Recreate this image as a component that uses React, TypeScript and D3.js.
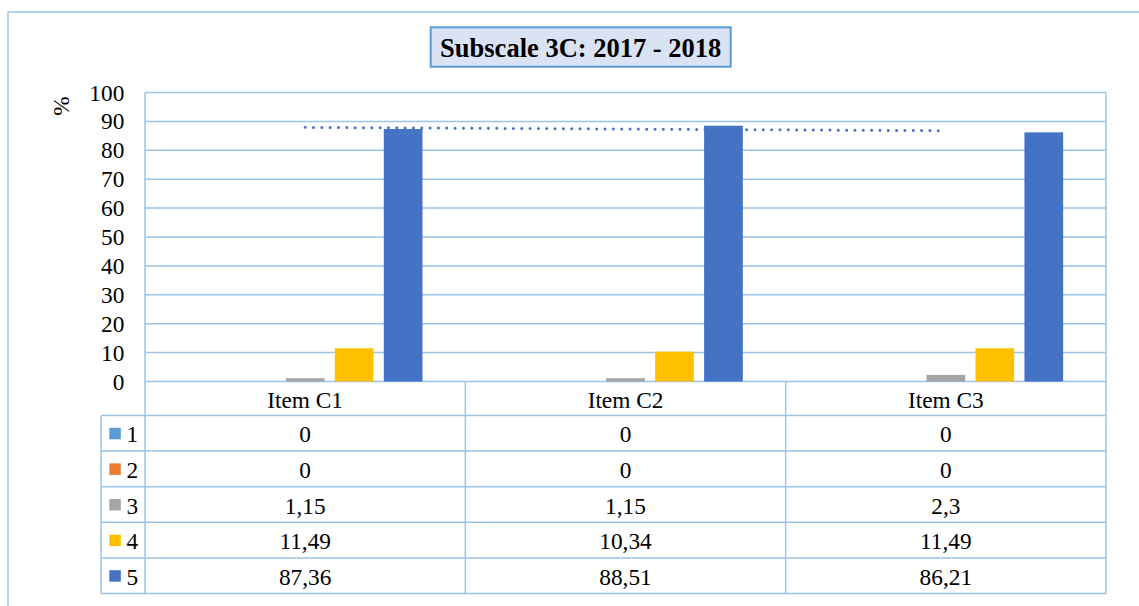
import { scaleBand, scaleLinear, mean, sum } from "d3";

const categories = ["Item C1", "Item C2", "Item C3"];
const seriesNames = ["1", "2", "3", "4", "5"];
const values1 = [0, 0, 0];
const values2 = [0, 0, 0];
const values3 = [1.15, 1.15, 2.3];
const values4 = [11.49, 10.34, 11.49];
const values5 = [87.36, 88.51, 86.21];
const yTicks = [0, 10, 20, 30, 40, 50, 60, 70, 80, 90, 100];
const colors = ["#5b9bd5", "#ed7d31", "#a5a5a5", "#ffc000", "#4472c4"];

const allSeries = [values1, values2, values3, values4, values5];

const width = 1139;
const height = 606;
const PLOT = { left: 145, right: 1106, top: 92.5, bottom: 381.5 };
const TABLE = { left: 101, headerBottom: 415.5, rowH: 35.6 };
const gridColor = "#9dc3e6";
const font = "'Liberation Serif', 'Times New Roman', serif";
const fs = 23.3;

const fmt = (v: number) => String(v).replace(".", ",");

export default function App() {
  const xScale = scaleBand<string>().domain(categories).range([PLOT.left, PLOT.right]).padding(0);
  const xInner = scaleBand<string>()
    .domain(seriesNames)
    .range([0, xScale.bandwidth()])
    .paddingInner(0.21)
    .paddingOuter(0.875);
  const yScale = scaleLinear().domain([0, 100]).range([PLOT.bottom, PLOT.top]);

  // linear trendline of series 5
  const xs = categories.map((_, i) => i);
  const mx = mean(xs) as number;
  const my = mean(values5) as number;
  const slope =
    sum(xs, (x, i) => (x - mx) * (values5[i] - my)) / sum(xs, (x) => (x - mx) * (x - mx));
  const trend = (i: number) => my + slope * (i - mx);
  const cx = (i: number) => (xScale(categories[i]) as number) + xScale.bandwidth() / 2;
  const last = categories.length - 1;

  const tableBottom = TABLE.headerBottom + TABLE.rowH * seriesNames.length;

  return (
    <svg
      width={width}
      height={height}
      fontFamily={font}
      style={{ position: "absolute", left: 0, top: 0 }}
    >
      <rect x={0} y={0} width={width} height={height} fill="#fff" />
      <rect x={8} y={12} width={width + 20} height={height + 20} fill="none" stroke={gridColor} strokeWidth={1.5} />

      {/* title */}
      <rect x={430.7} y={27.3} width={300} height={39.4} fill="#dae3f3" stroke="#5b9bd5" strokeWidth={2} />
      <text x={580.7} y={47.5} textAnchor="middle" dominantBaseline="central" fontSize={26.5} fontWeight="bold">
        Subscale 3C: 2017 - 2018
      </text>

      {/* y axis label */}
      <text
        transform="translate(61,106) rotate(-90)"
        textAnchor="middle"
        dominantBaseline="central"
        fontSize={fs}
      >
        %
      </text>

      {/* gridlines + ticks */}
      {yTicks.map((t) => (
        <g key={t}>
          <line x1={PLOT.left} x2={PLOT.right} y1={yScale(t)} y2={yScale(t)} stroke={gridColor} strokeWidth={1.5} />
          <text x={124.3} y={yScale(t)} textAnchor="end" dominantBaseline="central" fontSize={fs}>
            {t}
          </text>
        </g>
      ))}
      <line x1={PLOT.right} x2={PLOT.right} y1={PLOT.top} y2={tableBottom} stroke={gridColor} strokeWidth={1.5} />

      {/* trendline */}
      <line
        x1={cx(0)}
        x2={cx(last)}
        y1={yScale(trend(0))}
        y2={yScale(trend(last))}
        stroke="#4472c4"
        strokeWidth={3}
        strokeLinecap="round"
        strokeDasharray="0 8.33"
      />

      {/* bars */}
      {allSeries.map((vals, s) =>
        vals.map((v, i) => {
          if (v <= 0) return null;
          const x = (xScale(categories[i]) as number) + (xInner(seriesNames[s]) as number);
          return (
            <rect
              key={`${s}-${i}`}
              x={x}
              y={yScale(v)}
              width={xInner.bandwidth()}
              height={yScale(0) - yScale(v)}
              fill={colors[s]}
            />
          );
        })
      )}

      {/* data table */}
      <line x1={PLOT.left} x2={PLOT.left} y1={PLOT.top} y2={tableBottom} stroke={gridColor} strokeWidth={1.5} />
      <line x1={TABLE.left} x2={TABLE.left} y1={TABLE.headerBottom} y2={tableBottom} stroke={gridColor} strokeWidth={1.5} />
      {categories.slice(1).map((c) => (
        <line
          key={c}
          x1={xScale(c)}
          x2={xScale(c)}
          y1={PLOT.bottom}
          y2={tableBottom}
          stroke={gridColor}
          strokeWidth={1.5}
        />
      ))}
      {seriesNames.map((_, r) => (
        <line
          key={r}
          x1={TABLE.left}
          x2={PLOT.right}
          y1={TABLE.headerBottom + TABLE.rowH * r}
          y2={TABLE.headerBottom + TABLE.rowH * r}
          stroke={gridColor}
          strokeWidth={1.5}
        />
      ))}
      <line x1={TABLE.left} x2={PLOT.right} y1={tableBottom} y2={tableBottom} stroke={gridColor} strokeWidth={1.5} />

      {categories.map((c) => (
        <text
          key={c}
          x={(xScale(c) as number) + xScale.bandwidth() / 2}
          y={(PLOT.bottom + TABLE.headerBottom) / 2 + 1}
          textAnchor="middle"
          dominantBaseline="central"
          fontSize={fs}
        >
          {c}
        </text>
      ))}

      {allSeries.map((vals, s) => {
        const yc = TABLE.headerBottom + TABLE.rowH * (s + 0.5) + 1;
        return (
          <g key={s}>
            <rect x={109.3} y={yc - 6.5} width={11.5} height={11.5} fill={colors[s]} />
            <text x={126.5} y={yc} dominantBaseline="central" fontSize={fs}>
              {seriesNames[s]}
            </text>
            {vals.map((v, i) => (
              <text
                key={i}
                x={(xScale(categories[i]) as number) + xScale.bandwidth() / 2}
                y={yc}
                textAnchor="middle"
                dominantBaseline="central"
                fontSize={fs}
              >
                {fmt(v)}
              </text>
            ))}
          </g>
        );
      })}
    </svg>
  );
}
